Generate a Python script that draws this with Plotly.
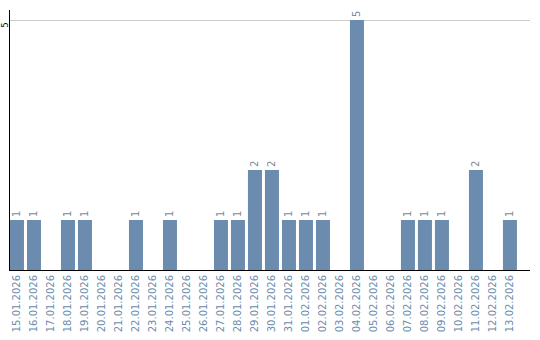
import plotly.graph_objects as go

dates = ["15.01.2026","16.01.2026","17.01.2026","18.01.2026","19.01.2026","20.01.2026",
         "21.01.2026","22.01.2026","23.01.2026","24.01.2026","25.01.2026","26.01.2026",
         "27.01.2026","28.01.2026","29.01.2026","30.01.2026","31.01.2026","01.02.2026",
         "02.02.2026","03.02.2026","04.02.2026","05.02.2026","06.02.2026","07.02.2026",
         "08.02.2026","09.02.2026","10.02.2026","11.02.2026","12.02.2026","13.02.2026"]
values = [1,1,0,1,1,0,0,1,0,1,0,0,1,1,2,2,1,1,1,0,5,0,0,1,1,1,0,2,0,1]
labels = [str(v) if v else "" for v in values]
y_ticks = [5]

fig = go.Figure(go.Bar(
    x=dates, y=values, text=labels, textposition="outside", textangle=-90,
    constraintext="none", cliponaxis=False,
    textfont=dict(family="DejaVu Sans", size=10, color="#7a8a99"),
    marker=dict(color="#6b8cae", line=dict(width=0)),
))
fig.update_layout(
    width=540, height=340, margin=dict(l=10, r=10, t=10, b=70),
    plot_bgcolor="white", paper_bgcolor="white", bargap=0.176, showlegend=False,
    font=dict(family="DejaVu Sans"),
)
fig.update_xaxes(
    type="category", range=[-0.41, 30.18], tickangle=-90, showline=True,
    linecolor="black", linewidth=1, showgrid=False, ticks="",
    tickfont=dict(family="DejaVu Sans", size=10, color="#6b8cae"),
    automargin=False,
)
fig.update_yaxes(
    range=[0, 5.2], tickvals=y_ticks, showticklabels=False, showline=True,
    linecolor="black", linewidth=1, showgrid=True, gridcolor="#cccccc", zeroline=False,
    ticks="", automargin=False,
)
for t in y_ticks:
    fig.add_annotation(
        x=0, xref="paper", y=t, yref="y", text=str(t), showarrow=False,
        textangle=-90, xanchor="right", yanchor="middle", xshift=1, yshift=-5,
        font=dict(family="DejaVu Sans", size=8, color="black"),
    )
fig.write_html("out.html")
